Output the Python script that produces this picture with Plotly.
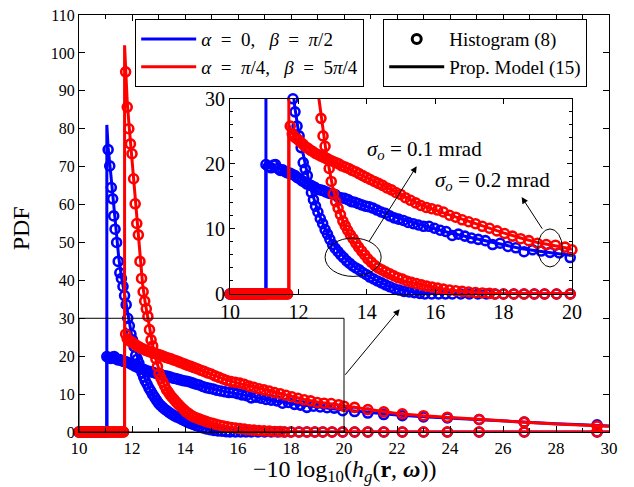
import plotly.graph_objects as go

# ---------------- data ----------------
# histogram markers (x in dB, PDF value)
blue01_hist = [(11.10,74.5),(11.16,70.2),(11.22,64.5),(11.27,61.5),(11.31,57.0),(11.36,53.5),(11.42,50.0),
               (11.48,45.0),(11.54,42.0),(11.60,40.5),(11.66,38.4),(11.72,36.0),(11.78,33.6),(11.84,30.0),
               (11.90,28.0),(11.96,25.8),(12.02,24.3),(12.08,22.5),(12.14,20.2),(12.20,19.2),(12.26,18.2),
               (12.32,16.8),(12.38,15.6),(12.44,14.5),(12.50,13.5),(12.57,12.6),(12.64,11.6),(12.71,10.8),
               (12.78,9.9),(12.85,9.2),(12.92,8.4),(13.00,7.6),(13.08,7.0),(13.16,6.5),(13.24,6.0),(13.32,5.6),
               (13.41,5.1),(13.50,4.7),(13.59,4.3),(13.68,4.0),(13.78,3.7),(13.88,3.3),(13.98,3.0),(14.09,2.6),
               (14.20,2.3),(14.31,2.0),(14.43,1.7),(14.55,1.4),(14.68,1.1),(14.81,0.8),(14.95,0.6),(15.09,0.4),
               (15.24,0.3),(15.39,0.2),(15.55,0.1)]
red01_hist = [(11.76,95.0),(11.82,85.7),(11.88,80.0),(11.94,76.0),(12.00,73.4),(12.06,66.8),(12.12,60.2),
              (12.18,55.0),(12.24,52.0),(12.30,45.0),(12.36,40.5),(12.42,37.0),(12.48,34.5),(12.54,32.5),
              (12.60,30.5),(12.66,27.0),(12.72,24.3),(12.78,22.7),(12.84,20.8),(12.90,19.3),(12.96,17.3),
              (13.02,15.4),(13.09,14.2),(13.16,13.2),(13.23,12.2),(13.30,11.2),(13.37,10.5),(13.44,9.8),
              (13.52,9.1),(13.60,8.5),(13.68,7.8),(13.76,7.2),(13.85,6.6),(13.94,6.0),(14.03,5.4),(14.13,4.9),
              (14.23,4.4),(14.33,4.0),(14.44,3.7),(14.55,3.4),(14.67,3.1),(14.79,2.8),(14.91,2.5),(15.04,2.3),
              (15.17,2.0),(15.31,1.8),(15.45,1.6),(15.60,1.4),(15.75,1.2),(15.91,1.05),(16.07,0.9),(16.24,0.75),
              (16.42,0.6),(16.60,0.5),(16.79,0.4),(16.98,0.3),(17.18,0.22),(17.38,0.15),(17.59,0.1)]
blue02_hist = [(11.05,19.9),(11.12,19.6),(11.20,19.4),(11.27,19.8),(11.33,19.9),(11.40,19.3),(11.47,19.0),
               (11.54,19.1),(11.61,18.8),(11.68,18.6),(11.75,18.6),(11.82,18.4),(11.90,18.2),(11.97,17.9),
               (12.04,17.7),(12.11,17.4),(12.18,17.2),(12.25,16.9),(12.32,16.8),(12.40,16.6),(12.48,16.4),
               (12.56,16.1),(12.64,16.0),(12.72,15.9),(12.80,15.7),(12.89,15.5),(12.98,15.4),(13.07,15.3),
               (13.16,14.9),(13.25,14.8),(13.35,14.7),(13.45,14.5),(13.55,14.2),(13.65,14.1),(13.75,13.9),
               (13.85,13.7),(13.96,13.5),(14.07,13.4),(14.18,13.2),(14.30,12.9),(14.42,12.6),(14.54,12.4),
               (14.67,12.0),(14.80,11.7),(14.93,11.5),(15.07,11.3),(15.21,11.0),(15.36,10.8),(15.51,10.6),
               (15.66,10.4),(15.82,10.4),(15.98,10.1),(16.15,9.8),(16.32,9.6),(16.50,9.0),(16.68,9.2),
               (16.87,8.9),(17.06,8.6),(17.26,8.4),(17.47,8.2),(17.68,7.6),(17.90,7.8),(18.13,7.3),(18.36,7.1),
               (18.60,6.5),(18.85,6.8),(19.10,6.6),(19.36,6.4),(19.63,6.3),(19.95,5.6),(20.40,5.4),(20.90,5.0),
               (21.50,4.6),(22.20,4.3),(23.00,4.0),(23.90,3.7),(25.10,3.3),(26.80,2.6),(29.55,1.9)]
red02_hist = [(11.76,25.8),(11.82,24.6),(11.88,24.2),(11.94,23.9),(12.00,23.7),(12.07,23.3),(12.14,23.0),
              (12.21,22.6),(12.28,22.4),(12.35,22.1),(12.42,21.9),(12.50,21.6),(12.58,21.4),(12.66,21.2),
              (12.74,21.0),(12.82,20.8),(12.91,20.6),(13.00,20.4),(13.09,20.2),(13.18,20.0),(13.27,19.7),
              (13.37,19.5),(13.47,19.3),(13.57,19.0),(13.67,18.8),(13.77,18.5),(13.88,18.2),(13.99,17.9),
              (14.10,17.6),(14.22,17.3),(14.34,17.0),(14.46,16.7),(14.59,16.3),(14.72,16.0),(14.85,15.6),
              (14.99,15.3),(15.13,14.8),(15.28,14.4),(15.43,14.0),(15.58,13.6),(15.74,13.3),(15.90,13.1),
              (16.07,12.9),(16.24,12.6),(16.42,12.1),(16.60,11.8),(16.79,11.4),(16.98,11.1),(17.18,10.8),
              (17.38,10.4),(17.59,10.1),(17.81,9.7),(18.03,9.3),(18.26,8.9),(18.50,8.5),(18.74,8.2),
              (18.99,7.8),(19.25,7.6),(19.52,7.5),(19.80,7.2),(20.00,6.8),(20.40,6.5),(20.90,5.9),(21.50,5.3),
              (22.20,4.8),(23.00,4.3),(23.90,3.9),(25.10,3.3),(26.80,2.6),(29.55,1.6)]
# histogram bins where the PDF is zero
zero_bins = [10.0,10.08,10.16,10.24,10.32,10.4,10.48,10.56,10.64,10.72,10.8,10.88,10.96,11.04,11.12,11.2,
             11.28,11.36,11.44,11.52,11.6,11.68,15.7,15.9,16.1,16.3,16.5,16.75,17.0,17.25,17.5,17.75,18.0,
             18.3,18.6,18.9,19.2,19.55,19.95,20.4,20.9,21.5,22.2,23.0,23.9,25.1,26.8,29.55]

# proposed model curves
blue01_model = [(10,0),(11.05,0),(11.05,81),(11.1,75),(11.2,68),(11.3,60),(11.4,52),(11.5,46),(11.6,41),
                (11.7,37),(11.8,33),(11.9,28.5),(12.0,25),(12.1,22.5),(12.2,19.7),(12.3,17.5),(12.4,15.5),
                (12.5,13.8),(12.6,12.3),(12.8,9.8),(13.0,7.8),(13.2,6.4),(13.4,5.3),(13.6,4.4),(13.8,3.6),
                (14.0,2.9),(14.3,2.0),(14.6,1.3),(15.0,0.6),(15.5,0.2),(16.0,0.05),(17.0,0),(30,0)]
red01_model = [(10,0),(11.72,0),(11.72,102),(11.76,96),(11.82,87),(11.9,80),(12.0,72),(12.1,62),(12.2,54),
               (12.3,46),(12.4,39),(12.5,34),(12.6,30),(12.7,25.8),(12.8,22.2),(12.9,19.3),(13.0,16.5),
               (13.1,14.5),(13.2,12.7),(13.3,11.2),(13.4,10.0),(13.6,8.1),(13.8,6.6),(14.0,5.3),(14.2,4.3),
               (14.5,3.4),(14.8,2.6),(15.1,2.0),(15.5,1.5),(16.0,0.95),(16.5,0.55),(17.0,0.3),(17.5,0.15),
               (18.0,0.05),(19.0,0),(30,0)]
blue02_model = [(10,0),(11.05,0),(11.05,20),(11.5,19.2),(12.0,17.9),(12.5,16.5),(13.0,15.3),(13.5,14.4),
                (14.0,13.5),(14.5,12.5),(15.0,11.5),(15.5,10.7),(16.0,10.0),(16.5,9.3),(17.0,8.7),(17.5,8.1),
                (18.0,7.5),(18.5,7.0),(19.0,6.6),(19.5,6.2),(20.0,5.8),(21.0,5.1),(22.0,4.5),(23.0,4.0),
                (24.0,3.6),(25.0,3.2),(26.0,2.8),(27.0,2.5),(28.0,2.2),(29.0,1.9),(30.0,1.6)]
red02_model = [(10,0),(11.72,0),(11.72,26),(11.8,24.8),(12.0,23.6),(12.5,21.6),(13.0,20.4),(13.5,19.2),
               (14.0,17.9),(14.5,16.6),(15.0,15.2),(15.5,13.9),(16.0,12.9),(16.5,12.0),(17.0,11.1),(17.5,10.3),
               (18.0,9.4),(18.5,8.6),(19.0,7.9),(19.5,7.4),(20.0,6.9),(21.0,5.8),(22.0,4.9),(23.0,4.3),
               (24.0,3.8),(25.0,3.3),(26.0,2.9),(27.0,2.5),(28.0,2.1),(29.0,1.8),(30.0,1.5)]

EQ = "&nbsp;&nbsp;=&nbsp;&nbsp;"
legend_series = ["<i>α</i>" + EQ + "0, &nbsp;&nbsp;<i>β</i>" + EQ + "<i>π</i>/2",
                 "<i>α</i>" + EQ + "<i>π</i>/4, &nbsp;&nbsp;<i>β</i>" + EQ + "5<i>π</i>/4"]
legend_kinds = ["Histogram (8)", "Prop. Model (15)"]
BLUE, RED = "#0000FF", "#FF0000"

FONT = "Liberation Serif"
fig = go.Figure()


def full_hist(pts):
    xs = [p[0] for p in pts]
    ys = [p[1] for p in pts]
    x0, x1 = xs[0], xs[-1]
    zl = [z for z in zero_bins if z < x0 - 0.03]
    zr = [z for z in zero_bins if z > x1 + 0.05]
    return zl + xs + zr, [0] * len(zl) + ys + [0] * len(zr)


curves = [(blue01_model, blue01_hist, BLUE), (blue02_model, blue02_hist, BLUE),
          (red01_model, red01_hist, RED), (red02_model, red02_hist, RED)]

for xa, ya, inset in [("x", "y", False), ("x2", "y2", True)]:
    for model, hist, col in curves:
        mx = [p[0] for p in model]
        my = [p[1] for p in model]
        fig.add_trace(go.Scatter(x=mx, y=my, mode="lines", line=dict(color=col, width=3),
                                 xaxis=xa, yaxis=ya, showlegend=False, hoverinfo="skip"))
        hx, hy = full_hist(hist)
        if inset:
            keep = [(a, b) for a, b in zip(hx, hy) if a <= 20.05 and b <= 30.5]
            hx = [k[0] for k in keep]
            hy = [k[1] for k in keep]
        fig.add_trace(go.Scatter(x=hx, y=hy, mode="markers", cliponaxis=False,
                                 marker=dict(symbol="circle-open", size=9, color=col,
                                             line=dict(color=col, width=2.6)),
                                 xaxis=xa, yaxis=ya, showlegend=False, hoverinfo="skip"))

# legend entries
for name, col in zip(legend_series, [BLUE, RED]):
    fig.add_trace(go.Scatter(x=[None], y=[None], mode="lines", name=name,
                             line=dict(color=col, width=3), legend="legend"))
fig.add_trace(go.Scatter(x=[None], y=[None], mode="markers", name=legend_kinds[0], legend="legend2",
                         marker=dict(symbol="circle-open", size=9, color="black",
                                     line=dict(color="black", width=3))))
fig.add_trace(go.Scatter(x=[None], y=[None], mode="lines", name=legend_kinds[1], legend="legend2",
                         line=dict(color="black", width=3)))

axis_common = dict(showgrid=False, zeroline=False, showline=True, linecolor="black", linewidth=1.2,
                   ticks="inside", tickcolor="black", mirror="ticks", automargin=False,
                   ticklabeloverflow="allow")

# the page adds an 8px body margin, so the figure is sized/offset to compensate
fig.update_layout(
    width=626, height=479,
    margin=dict(l=71, r=25, t=7, b=55, autoexpand=False),
    paper_bgcolor="white", plot_bgcolor="white",
    font=dict(family=FONT, size=16, color="black"),
    xaxis=dict(range=[10, 30], dtick=2, ticklen=6,
               minor=dict(dtick=1, ticks="inside", ticklen=4, tickcolor="black"),
               tickfont=dict(size=17), **axis_common),
    yaxis=dict(range=[0, 110], dtick=10, ticklen=6, tickfont=dict(size=16), **axis_common),
    xaxis2=dict(domain=[0.285, 0.930], anchor="y2", range=[10, 20], dtick=2, ticklen=5,
                tickfont=dict(size=20), **axis_common),
    yaxis2=dict(domain=[0.331, 0.799], anchor="x2", range=[0, 30], dtick=10, ticklen=5,
                minor=dict(dtick=2, ticks="inside", ticklen=3, tickcolor="black"),
                tickfont=dict(size=20), **axis_common),
    legend=dict(x=0.106, y=0.99, xanchor="left", yanchor="top", bgcolor="white",
                bordercolor="black", borderwidth=1, font=dict(size=19), itemwidth=55,
                tracegroupgap=0),
    legend2=dict(x=0.574, y=0.99, xanchor="left", yanchor="top", bgcolor="white",
                 bordercolor="black", borderwidth=1, font=dict(size=19), itemwidth=55),
)

# axis titles
fig.add_annotation(x=0.5, y=-0.094, xref="paper", yref="paper", showarrow=False,
                   text="−10&nbsp;log<sub>10</sub>(<i>h</i><sub><i>g</i></sub>(<b>r</b>, <b><i>ω</i></b>))",
                   font=dict(size=24), xanchor="center", yanchor="middle")
fig.add_annotation(x=-0.109, y=0.489, xref="paper", yref="paper", showarrow=False, text="PDF",
                   textangle=-90, font=dict(size=24), xanchor="center", yanchor="middle")

# zoom rectangle in main plot
fig.add_shape(type="rect", xref="x", yref="y", x0=10, x1=20, y0=0, y1=30,
              line=dict(color="black", width=1), layer="above")
# ellipses in inset
fig.add_shape(type="circle", xref="x2", yref="y2", x0=12.78, x1=14.42, y0=2.7, y1=8.6,
              line=dict(color="black", width=1))
fig.add_shape(type="circle", xref="x2", yref="y2", x0=19.0, x1=19.72, y0=4.15, y1=10.0,
              line=dict(color="black", width=1))

# arrows
fig.add_annotation(x=22.1, y=32.4, ax=20, ay=14.7, xref="x", yref="y", axref="x", ayref="y",
                   showarrow=True, arrowhead=2, arrowsize=1.3, arrowwidth=1, arrowcolor="black", text="")
fig.add_annotation(x=15.46, y=19.65, ax=14.04, ay=7.85, xref="x2", yref="y2", axref="x2", ayref="y2",
                   showarrow=True, arrowhead=2, arrowsize=1.3, arrowwidth=1, arrowcolor="black", text="")
fig.add_annotation(x=18.53, y=14.9, ax=19.16, ay=9.8, xref="x2", yref="y2", axref="x2", ayref="y2",
                   showarrow=True, arrowhead=2, arrowsize=1.3, arrowwidth=1, arrowcolor="black", text="")
fig.add_annotation(x=15.7, y=22.15, xref="x2", yref="y2", showarrow=False,
                   text="<i>σ</i><sub><i>o</i></sub> = 0.1 mrad", font=dict(size=21))
fig.add_annotation(x=17.69, y=17.4, xref="x2", yref="y2", showarrow=False,
                   text="<i>σ</i><sub><i>o</i></sub> = 0.2 mrad", font=dict(size=21))

fig.write_html("out.html")
